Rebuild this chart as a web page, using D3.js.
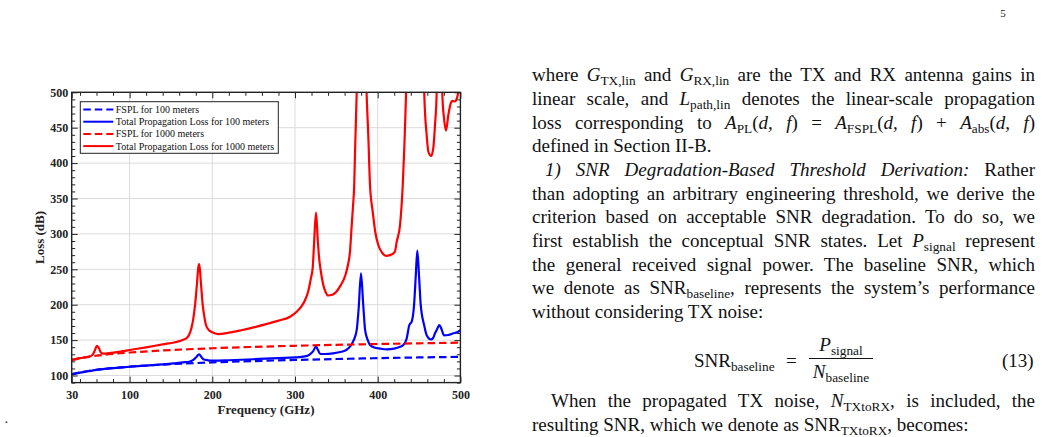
<!DOCTYPE html>
<html>
<head>
<meta charset="utf-8">
<script src="https://cdn.jsdelivr.net/npm/d3@7"></script>
<style>
  body { margin: 0; background: #fff; width: 1042px; height: 437px; overflow: hidden; position: relative;
         font-family: "Liberation Serif", "Times New Roman", serif; }
  #chart { position: absolute; left: 0; top: 0; }
  .ln { position: absolute; font-size: 19px; line-height: 19px; color: #111; }
  .just { text-align: justify; text-align-last: justify; }
  .ln sub { font-size: 0.7em; vertical-align: -0.3em; line-height: 0; }
</style>
</head>
<body>
<svg id="chart" width="1042" height="437"></svg>
<div id="text"></div>
<script>
// free-space path loss
const freqFspl = [30, 40, 50, 60, 75, 100, 125, 150, 200, 250, 300, 350, 400, 450, 500];
const fspl100 = [102.0, 104.5, 106.4, 108.0, 110.0, 112.5, 114.4, 116.0, 118.5, 120.4, 122.0, 123.3, 124.5, 125.5, 126.4];
const fspl1000 = [122.0, 124.5, 126.4, 128.0, 130.0, 132.5, 134.4, 136.0, 138.5, 140.4, 142.0, 143.3, 144.5, 145.5, 146.4];

// total propagation loss, 100 m (blue solid)
const freq100 = [30, 40, 50, 55, 60, 65, 70, 80, 100, 120, 140, 165, 172, 177, 181, 184, 187, 189, 195, 201, 220, 250, 280, 300,
    312, 318, 322, 325.4, 328, 330.5, 336, 346, 356, 362, 366.5, 371, 374.6, 377, 379.8, 382.5, 384.8, 388, 390.7, 396, 403, 411, 420,
    427, 431, 435, 438.2, 441.1, 444, 446, 447.9, 450, 452, 453.2, 456, 459.2, 464.5, 467, 469.3, 472, 474.5, 477, 480.2, 485.5, 491.5, 496, 500];
const total100 = [101.7, 104.2, 106.0, 107.0, 108.2, 108.8, 109.4, 110.4, 112.4, 114.1, 115.7, 118.6, 119.5, 122.0, 126.5, 130.0, 126.0, 123.0, 121.5, 121.0, 121.6, 123.0, 124.6, 125.5,
    127.0, 130.0, 134.5, 140.7, 135.5, 130.5, 130.4, 131.3, 133.5, 136.0, 140.7, 150.0, 164.0, 195.0, 244.3, 200.0, 164.0, 150.0, 143.0, 139.5, 138.0, 137.0, 138.0,
    140.5, 143.0, 152.0, 171.0, 176.0, 200.0, 240.0, 276.3, 240.0, 200.0, 187.8, 172.0, 157.0, 151.0, 153.0, 159.6, 166.0, 171.3, 166.0, 156.8, 157.2, 159.6, 161.0, 164.0];

// total propagation loss, 1000 m (red solid), peaks run off the top
const freq1000 = [30, 40, 50, 55, 58, 60.5, 63, 65, 68, 75, 90, 100, 120, 140, 155, 165, 170, 172, 175, 177, 179.2, 181.5, 183, 184, 185, 186.3, 188.4, 190, 192.4, 196, 200, 207,
    220, 235, 250, 265, 280, 294, 302, 308, 312, 316, 319, 321.4, 323, 325.4, 327.5, 329, 331, 334, 337, 340, 345, 350, 355, 361, 364, 366.5, 368.6, 370.2, 371.6, 372.6, 374.6,
    376.5, 380, 383.5, 386.6, 388.6, 390.7, 394, 397, 400.7, 405, 410, 415, 420.7, 423, 427, 430.3, 432.3, 434.3, 437, 448, 455, 456.3, 459.2, 461.3, 464.5, 467.2, 469.3, 471.3,
    473, 475, 477, 478.1, 480.2, 482.6, 485.4, 488.3, 490.3, 493.5, 495.6, 497.6, 500];
const total1000 = [122.0, 124.5, 126.5, 129.0, 135.5, 142.0, 138.5, 133.0, 130.8, 131.5, 134.0, 136.0, 139.8, 144.0, 147.0, 150.5, 154.0, 157.5, 168.0, 180.0, 200.0, 230.0, 252.0, 257.5, 250.0, 230.0, 200.0, 186.0, 171.0, 164.0, 161.0, 158.6,
    160.5, 164.0, 168.0, 172.5, 177.5, 183.0, 190.0, 198.0, 206.0, 219.0, 236.0, 252.0, 285.0, 330.0, 292.0, 268.0, 249.0, 229.0, 218.0, 213.0, 214.0, 218.4, 227.0, 242.0, 256.0, 275.0, 312.6, 340.0, 369.0, 416.0, 498.6,
    600, 800, 650, 498.6, 439.7, 369.0, 331.0, 303.0, 284.3, 274.0, 269.0, 270.0, 274.8, 289.0, 312.6, 369.0, 425.6, 498.6, 600, 900, 600, 498.6, 439.7, 416.0, 410.0, 421.0, 454.0, 498.6,
    600, 700, 600, 498.6, 463.0, 446.0, 468.0, 484.5, 488.0, 487.0, 491.0, 500.0, 505.0];

const xTickValues = [30, 100, 200, 300, 400, 500];
const yTickValues = [100, 150, 200, 250, 300, 350, 400, 450, 500];
const xGridValues = [100, 200, 300, 400];
const yGridValues = [100, 150, 200, 250, 300, 350, 400, 450];
const legendLabels = ["FSPL for 100 meters", "Total Propagation Loss for 100 meters",
    "FSPL for 1000 meters", "Total Propagation Loss for 1000 meters"];

const margin = { top: 92.3, left: 71.7 };
const width = 388.7;
const height = 290.3;

const svg = d3.select("#chart");

const xScale = d3.scaleLinear().domain([30, 500]).range([0, width]);
const yScale = d3.scaleLinear().domain([90, 500]).range([height, 0]);

const group = svg
    .append("g")
    .attr("transform", `translate(${margin.left} ${margin.top})`);

group.append("clipPath")
    .attr("id", "plotClip")
    .append("rect")
    .attr("width", width)
    .attr("height", height);

// grid
group.selectAll("line.vgrid")
    .data(xGridValues)
    .join("line")
    .attr("class", "vgrid")
    .attr("x1", d => xScale(d)).attr("x2", d => xScale(d))
    .attr("y1", 0).attr("y2", height)
    .attr("stroke", "#dcdcdc").attr("stroke-width", 1);

group.selectAll("line.hgrid")
    .data(yGridValues)
    .join("line")
    .attr("class", "hgrid")
    .attr("x1", 0).attr("x2", width)
    .attr("y1", d => yScale(d)).attr("y2", d => yScale(d))
    .attr("stroke", "#dcdcdc").attr("stroke-width", 1);

// series
const series = [
    { freq: freqFspl, vals: fspl100, color: "#0000ff", dash: "7.5,4" },
    { freq: freq100, vals: total100, color: "#0000ff", dash: null },
    { freq: freqFspl, vals: fspl1000, color: "#ff0000", dash: "7.5,4" },
    { freq: freq1000, vals: total1000, color: "#ff0000", dash: null }
];

const line = d3.line()
    .x(d => xScale(d[0]))
    .y(d => yScale(d[1]))
    .curve(d3.curveMonotoneX);

const plot = group.append("g").attr("clip-path", "url(#plotClip)");

plot.selectAll("path.series")
    .data(series)
    .join("path")
    .attr("class", "series")
    .attr("d", s => line(d3.zip(s.freq, s.vals)))
    .attr("fill", "none")
    .attr("stroke", s => s.color)
    .attr("stroke-width", 2.2)
    .attr("stroke-dasharray", s => s.dash);

// axes, ticks drawn inward on all four sides
const minorX = d3.range(40, 500, 20).filter(d => d % 100 !== 0);
const minorY = d3.range(90, 500, 10).filter(d => d % 50 !== 0);

const styleAxis = (sel) => {
    sel.select(".domain").remove();
    sel.selectAll(".tick line").attr("stroke", "#222").attr("stroke-width", 1);
    sel.selectAll("text")
        .attr("fill", "#222")
        .style("font-family", "'Liberation Serif', serif")
        .style("font-weight", "bold")
        .style("font-size", "12px");
};

group.append("g")
    .attr("transform", `translate(0 ${height})`)
    .call(d3.axisBottom(xScale).tickValues(xTickValues).tickSize(-6).tickPadding(8))
    .call(styleAxis);
group.append("g")
    .attr("transform", `translate(0 ${height})`)
    .call(d3.axisBottom(xScale).tickValues(minorX).tickSize(-3.5).tickFormat(""))
    .call(styleAxis);
group.append("g")
    .call(d3.axisTop(xScale).tickValues(xTickValues).tickSize(-6).tickFormat(""))
    .call(styleAxis);
group.append("g")
    .call(d3.axisTop(xScale).tickValues(minorX).tickSize(-3.5).tickFormat(""))
    .call(styleAxis);

group.append("g")
    .call(d3.axisLeft(yScale).tickValues(yTickValues).tickSize(-6).tickPadding(3.5))
    .call(styleAxis);
group.append("g")
    .call(d3.axisLeft(yScale).tickValues(minorY).tickSize(-3.5).tickFormat(""))
    .call(styleAxis);
group.append("g")
    .attr("transform", `translate(${width} 0)`)
    .call(d3.axisRight(yScale).tickValues(yTickValues).tickSize(-6).tickFormat(""))
    .call(styleAxis);
group.append("g")
    .attr("transform", `translate(${width} 0)`)
    .call(d3.axisRight(yScale).tickValues(minorY).tickSize(-3.5).tickFormat(""))
    .call(styleAxis);

group.append("rect")
    .attr("width", width)
    .attr("height", height)
    .attr("fill", "none")
    .attr("stroke", "#222")
    .attr("stroke-width", 1.4);

// axis titles
group.append("text")
    .attr("x", width / 2)
    .attr("y", 321.7)
    .attr("text-anchor", "middle")
    .style("font-family", "'Liberation Serif', serif")
    .style("font-weight", "bold")
    .style("font-size", "13px")
    .attr("fill", "#222")
    .text("Frequency (GHz)");

group.append("text")
    .attr("transform", `translate(-27.4 ${height / 2}) rotate(-90)`)
    .attr("text-anchor", "middle")
    .style("font-family", "'Liberation Serif', serif")
    .style("font-weight", "bold")
    .style("font-size", "13px")
    .attr("fill", "#222")
    .text("Loss (dB)");

// legend
const legend = group.append("g").attr("transform", "translate(8.6 9.4)");
legend.append("rect")
    .attr("width", 198)
    .attr("height", 51.6)
    .attr("fill", "#fff")
    .attr("stroke", "#222")
    .attr("stroke-width", 1);

const rows = legend.selectAll("g.row")
    .data(series)
    .join("g")
    .attr("class", "row")
    .attr("transform", (d, i) => `translate(0 ${7.8 + i * 12.2})`);

rows.append("line")
    .attr("x1", 3).attr("x2", 33)
    .attr("stroke", d => d.color)
    .attr("stroke-width", 2)
    .attr("stroke-dasharray", d => d.dash);

rows.append("text")
    .attr("x", 35.5)
    .attr("dy", "0.35em")
    .style("font-family", "'Liberation Serif', serif")
    .style("font-size", "10px")
    .attr("fill", "#111")
    .text((d, i) => legendLabels[i]);

// page furniture
svg.append("text")
    .attr("x", 1003).attr("y", 17)
    .attr("text-anchor", "middle")
    .style("font-family", "'Liberation Serif', serif")
    .style("font-size", "11px")
    .attr("fill", "#222")
    .text("5");
svg.append("text")
    .attr("x", 5).attr("y", 423)
    .style("font-family", "'Liberation Serif', serif")
    .style("font-size", "11px")
    .style("font-weight", "bold")
    .attr("fill", "#333")
    .text(".");

// right-hand text column
const textLines = [
    { x: 532, b: 81, just: true, html: 'where <i>G</i><sub>TX,lin</sub> and <i>G</i><sub>RX,lin</sub> are the TX and RX antenna gains in' },
    { x: 532, b: 104.7, just: true, html: 'linear scale, and <i>L</i><sub>path,lin</sub> denotes the linear-scale propagation' },
    { x: 532, b: 128.4, just: true, html: 'loss corresponding to <i>A</i><sub>PL</sub>(<i>d, f</i>) = <i>A</i><sub>FSPL</sub>(<i>d, f</i>) + <i>A</i><sub>abs</sub>(<i>d, f</i>)' },
    { x: 532, b: 152.1, just: false, html: 'defined in Section II-B.' },
    { x: 545, b: 175.8, just: true, html: '<i>1) SNR Degradation-Based Threshold Derivation:</i> Rather' },
    { x: 532, b: 199.5, just: true, html: 'than adopting an arbitrary engineering threshold, we derive the' },
    { x: 532, b: 223.2, just: true, html: 'criterion based on acceptable SNR degradation. To do so, we' },
    { x: 532, b: 246.9, just: true, html: 'first establish the conceptual SNR states. Let <i>P</i><sub>signal</sub> represent' },
    { x: 532, b: 270.6, just: true, html: 'the general received signal power. The baseline SNR, which' },
    { x: 532, b: 294.3, just: true, html: 'we denote as SNR<sub>baseline</sub>, represents the system\u2019s performance' },
    { x: 532, b: 318, just: false, html: 'without considering TX noise:' },
    { x: 551, b: 407, just: true, html: 'When the propagated TX noise, <i>N</i><sub>TXtoRX</sub>, is included, the' },
    { x: 532, b: 431, just: false, html: 'resulting SNR, which we denote as SNR<sub>TXtoRX</sub>, becomes:' }
];

const textBox = d3.select("#text");
textBox.selectAll("div.ln")
    .data(textLines)
    .join("div")
    .attr("class", d => d.just ? "ln just" : "ln")
    .style("left", d => d.x + "px")
    .style("top", d => (d.b - 15.9) + "px")
    .style("width", d => d.just ? (1035 - d.x) + "px" : null)
    .html(d => d.html);

// equation (13)
const eqParts = [
    { x: 694, b: 367, anchor: "left", html: 'SNR<sub>baseline</sub>' },
    { x: 786, b: 367, anchor: "left", html: '=' },
    { x: 841, b: 351, anchor: "center", html: '<i>P</i><sub>signal</sub>' },
    { x: 841, b: 378, anchor: "center", html: '<i>N</i><sub>baseline</sub>' },
    { x: 1002, b: 367, anchor: "left", html: '(13)' }
];
textBox.selectAll("div.eq")
    .data(eqParts)
    .join("div")
    .attr("class", "ln eq")
    .style("left", d => d.x + "px")
    .style("top", d => (d.b - 15.9) + "px")
    .style("transform", d => d.anchor === "center" ? "translateX(-50%)" : null)
    .style("white-space", "nowrap")
    .html(d => d.html);
textBox.append("div")
    .style("position", "absolute")
    .style("left", "809px")
    .style("top", "357.5px")
    .style("width", "64px")
    .style("height", "1px")
    .style("background", "#111");
</script>
</body>
</html>
